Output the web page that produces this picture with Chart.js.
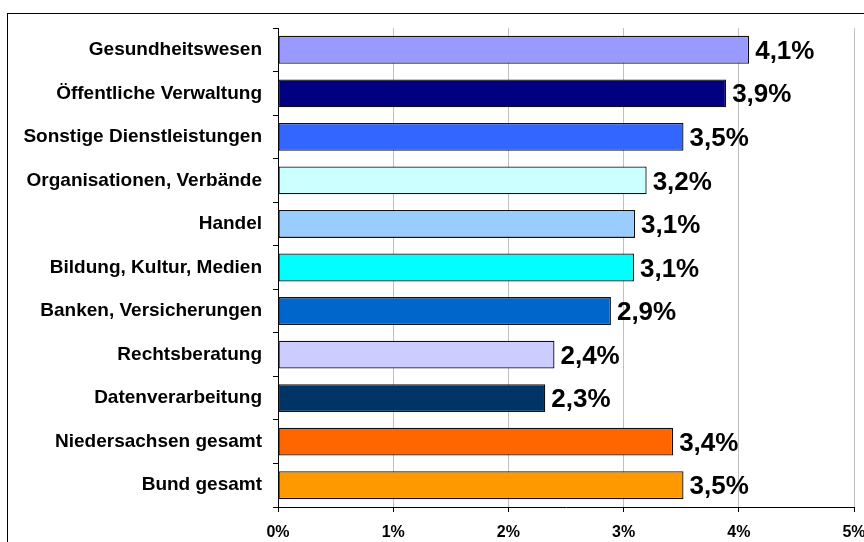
<!DOCTYPE html>
<html>
<head>
<meta charset="utf-8">
<script src="https://cdn.jsdelivr.net/npm/chart.js@4"></script>
<style>
    html, body { margin: 0; padding: 0; background: #fff; overflow: hidden; }
    #frame { position: absolute; left: 7px; top: 13px; width: 900px; height: 600px; border: 1px solid #000; }
    #chart { position: absolute; left: 0; top: 0; }
</style>
</head>
<body>
<div id="frame"></div>
<canvas id="chart" width="864" height="542"></canvas>
<script>
const branchen = [
    'Gesundheitswesen',
    'Öffentliche Verwaltung',
    'Sonstige Dienstleistungen',
    'Organisationen, Verbände',
    'Handel',
    'Bildung, Kultur, Medien',
    'Banken, Versicherungen',
    'Rechtsberatung',
    'Datenverarbeitung',
    'Niedersachsen gesamt',
    'Bund gesamt'
];
const anteile = [4.09, 3.89, 3.52, 3.20, 3.10, 3.09, 2.89, 2.40, 2.32, 3.43, 3.52];
const farben = ['#9999FF', '#000080', '#3366FF', '#CCFFFF', '#99CCFF', '#00FFFF', '#0066CC', '#CCCCFF', '#003366', '#FF6600', '#FF9900'];
const xTicks = [0, 1, 2, 3, 4, 5];

const FONT = 'Arial, "Liberation Sans", sans-serif';

const formatProzent = v => v.toFixed(1).replace('.', ',') + '%';

// Werte rechts neben den Balken
const wertLabels = {
    id: 'wertLabels',
    afterDatasetsDraw(chart) {
        const ctx = chart.ctx;
        const meta = chart.getDatasetMeta(0);
        ctx.save();
        ctx.font = 'bold 26px ' + FONT;
        ctx.fillStyle = '#000';
        ctx.textAlign = 'left';
        ctx.textBaseline = 'middle';
        meta.data.forEach((bar, i) => {
            ctx.fillText(formatProzent(anteile[i]), bar.x + 6, bar.y + 2);
        });
        ctx.restore();
    }
};

new Chart(document.getElementById('chart'), {
    type: 'bar',
    data: {
        labels: branchen,
        datasets: [{
            data: anteile,
            backgroundColor: farben,
            borderColor: '#111',
            borderWidth: 1.3,
            borderSkipped: false,
            categoryPercentage: 1,
            barPercentage: 0.64
        }]
    },
    options: {
        indexAxis: 'y',
        responsive: false,
        devicePixelRatio: 1,
        animation: false,
        layout: { padding: { left: 0, right: 10, top: 28, bottom: 0 } },
        plugins: {
            legend: { display: false },
            tooltip: { enabled: false }
        },
        scales: {
            x: {
                min: 0,
                max: 5,
                afterBuildTicks: scale => { scale.ticks = xTicks.map(v => ({ value: v })); },
                afterFit: scale => { scale.height = 35; scale.paddingLeft = 0; scale.paddingRight = 0; },
                grid: { color: '#c0c0c0', lineWidth: 1, tickColor: '#000', tickLength: 5 },
                border: { display: true, color: '#000', width: 1 },
                ticks: {
                    color: '#000',
                    padding: 11,
                    font: { family: FONT, size: 16, weight: 'bold' },
                    callback: v => v + '%'
                }
            },
            y: {
                afterFit: scale => { scale.width = 278; scale.paddingTop = 0; scale.paddingBottom = 0; },
                grid: { drawOnChartArea: false, color: '#000', tickColor: '#000', tickLength: 5, offset: true },
                border: { display: true, color: '#000', width: 1 },
                ticks: {
                    color: '#000',
                    padding: 11,
                    font: { family: FONT, size: 19, weight: 'bold' }
                }
            }
        }
    },
    plugins: [wertLabels]
});
</script>
</body>
</html>
